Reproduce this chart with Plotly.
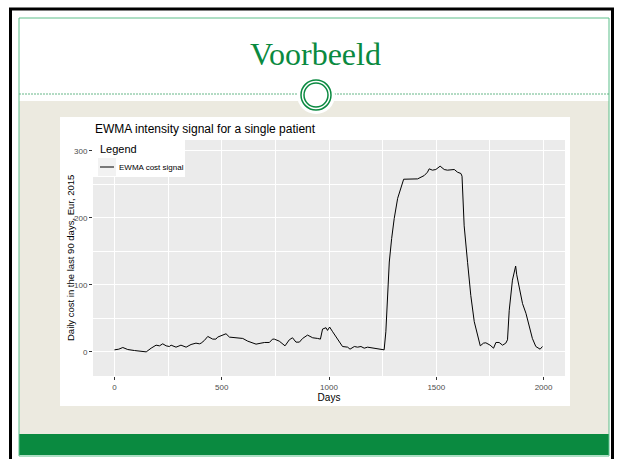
import plotly.graph_objects as go

W, H = 620, 459

# EWMA cost signal (day, EUR/day)
days = [0, 20, 39, 62, 93, 124, 148, 171, 194, 210, 225, 241, 256, 264, 287, 310,
        334, 357, 380, 396, 404, 419, 435, 458, 473, 481, 505, 520, 536, 560, 575,
        598, 621, 640, 660, 683, 700, 722, 737, 745, 768, 795, 815, 830, 846, 862,
        877, 900, 924, 947, 960, 970, 986, 993, 1003, 1017, 1040, 1063, 1087, 1098,
        1118, 1133, 1149, 1164, 1180, 1203, 1226, 1242, 1257, 1265, 1273, 1281, 1292,
        1304, 1320, 1335, 1348, 1413, 1428, 1444, 1459, 1467, 1482, 1498, 1518, 1537,
        1552, 1568, 1584, 1599, 1615, 1620, 1630, 1646, 1661, 1677, 1692, 1705, 1720,
        1731, 1751, 1767, 1778, 1793, 1809, 1824, 1832, 1840, 1855, 1870, 1875, 1886,
        1902, 1918, 1933, 1948, 1964, 1984, 1995]
cost = [3, 4, 6.5, 3.5, 2, 0.5, 0, 5.5, 10, 9, 12, 9, 8, 10, 7, 10,
        7, 11, 13, 12, 13, 17, 23, 19, 19, 22, 25, 27, 22, 21, 20,
        20, 16, 14, 11.5, 13, 14, 14, 19, 19, 16, 9, 18, 21, 14.5, 14.5,
        20, 25, 21, 20, 19, 34, 36, 32, 37, 30, 18, 8, 7, 4,
        8, 7, 8, 5.5, 7, 5.5, 4.5, 4, 3, 30, 80, 134, 169,
        199, 229, 246, 257.5, 258, 261, 263, 268, 273, 271, 272, 277, 272,
        271, 272, 272, 268, 266, 262, 188, 133, 84, 45, 23, 9, 13,
        13.5, 10, 5.5, 14, 14, 10, 13, 18, 62, 107, 128, 115, 97,
        72, 57.5, 38, 20, 8, 4, 8]

x_ticks = [0, 500, 1000, 1500, 2000]
y_ticks = [0, 100, 200, 300]

GREEN = "#0A8A40"
BEIGE = "#ECEAE0"


def px(x):
    return x / W


def py(y):
    return 1 - y / H


def rect(x0, y0, x1, y1, fill=None, line=None, lw=0, layer="below"):
    return dict(type="rect", xref="paper", yref="paper",
                x0=px(x0), x1=px(x1), y0=py(y1), y1=py(y0),
                fillcolor=fill if fill else "rgba(0,0,0,0)",
                line=dict(color=line if line else "rgba(0,0,0,0)", width=lw),
                layer=layer)


def circle(cx, cy, r, fill=None, line=None, lw=0, layer="below"):
    return dict(type="circle", xref="paper", yref="paper",
                x0=px(cx - r), x1=px(cx + r), y0=py(cy + r), y1=py(cy - r),
                fillcolor=fill if fill else "rgba(0,0,0,0)",
                line=dict(color=line if line else "rgba(0,0,0,0)", width=lw),
                layer=layer)


def hline(x0, x1, y, color, lw, dash="solid", layer="below"):
    return dict(type="line", xref="paper", yref="paper",
                x0=px(x0), x1=px(x1), y0=py(y), y1=py(y),
                line=dict(color=color, width=lw, dash=dash), layer=layer)


def vline(x, y0, y1, color, lw, layer="below"):
    return dict(type="line", xref="paper", yref="paper",
                x0=px(x), x1=px(x), y0=py(y0), y1=py(y1),
                line=dict(color=color, width=lw), layer=layer)


fig = go.Figure()
fig.add_trace(go.Scatter(x=days, y=cost, mode="lines", name="EWMA cost signal",
                         line=dict(color="black", width=1), showlegend=False))

shapes = [
    # slide body
    rect(19, 101, 609, 434, fill=BEIGE),
    rect(60, 117, 570, 406, fill="white"),
    rect(93, 140, 565, 376, fill="#EBEBEB"),
    rect(19, 434, 609, 455, fill=GREEN),
    rect(19, 18, 609, 456, line="#5CBF8A", lw=1),
    hline(19, 609, 94, "#3FA56B", 0.8, dash="2px,1px"),
    circle(316, 95, 19, fill="white"),
    circle(316, 95, 15, line=GREEN, lw=1.5),
    circle(316, 95, 12, line=GREEN, lw=1.5),
    # outer frame
    hline(9, 614, 9, "black", 3),
    vline(10.5, 8, 459, "black", 3),
    vline(612.5, 8, 459, "black", 3),
    # legend box
    rect(93, 140, 185, 177, fill="white", layer="above"),
    rect(98, 158, 116, 176, fill="#F2F2F2", layer="above"),
    hline(100, 114, 167, "black", 1, layer="above"),
]

annotations = [
    dict(text="Voorbeeld", x=px(315), y=py(54), xref="paper", yref="paper",
         showarrow=False, xanchor="center", yanchor="middle",
         font=dict(family="Liberation Serif", size=32, color=GREEN)),
    dict(text="EWMA intensity signal for a single patient", x=px(93), y=py(129),
         xref="paper", yref="paper", showarrow=False, xanchor="left", yanchor="middle",
         font=dict(family="Liberation Sans", size=12, color="black")),
    dict(text="Legend", x=px(98), y=py(149), xref="paper", yref="paper",
         showarrow=False, xanchor="left", yanchor="middle",
         font=dict(family="Liberation Sans", size=11, color="black")),
    dict(text="EWMA cost signal", x=px(117), y=py(167), xref="paper", yref="paper",
         showarrow=False, xanchor="left", yanchor="middle",
         font=dict(family="Liberation Sans", size=8, color="black")),
    dict(text="Daily cost in the last 90 days, Eur, 2015", x=px(70), y=py(258),
         xref="paper", yref="paper", showarrow=False, textangle=-90,
         xanchor="center", yanchor="middle",
         font=dict(family="Liberation Sans", size=9.5, color="black")),
]

axis_common = dict(
    showline=False, zeroline=False, ticks="outside", ticklen=3, tickwidth=1,
    tickcolor="#333333", gridcolor="white", gridwidth=1.1,
    tickfont=dict(family="Liberation Sans", size=8, color="#4D4D4D"),
    automargin=False,
)

fig.update_layout(
    width=W, height=H,
    margin=dict(l=0, r=0, t=0, b=0),
    paper_bgcolor="white",
    plot_bgcolor="#EBEBEB",
    shapes=shapes,
    annotations=annotations,
    showlegend=False,
    xaxis=dict(
        domain=[px(93), px(565)], range=[-100, 2100],
        tickmode="array", tickvals=x_ticks, ticktext=[str(v) for v in x_ticks],
        minor=dict(tickmode="array", tickvals=[250, 750, 1250, 1750],
                   showgrid=True, gridcolor="white", gridwidth=0.5, ticks=""),
        title=dict(text="Days", standoff=2,
                   font=dict(family="Liberation Sans", size=10, color="black")),
        **axis_common,
    ),
    yaxis=dict(
        domain=[py(376), py(140)], range=[-36, 316],
        tickmode="array", tickvals=y_ticks, ticktext=[str(v) for v in y_ticks],
        minor=dict(tickmode="array", tickvals=[50, 150, 250],
                   showgrid=True, gridcolor="white", gridwidth=0.5, ticks=""),
        **axis_common,
    ),
)

fig.write_html("out.html")
